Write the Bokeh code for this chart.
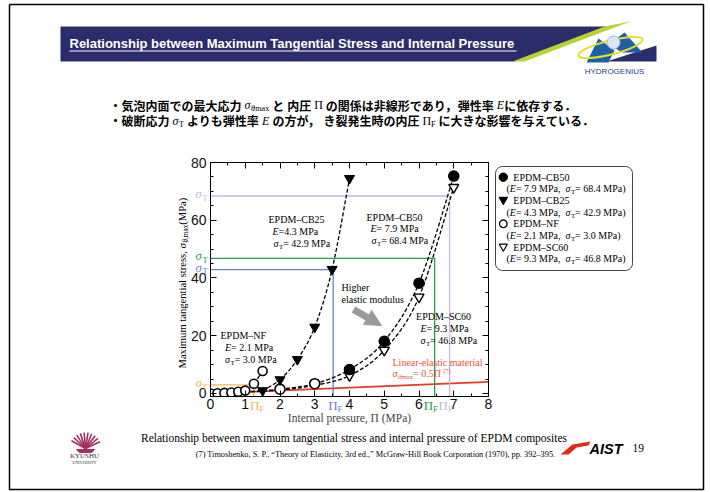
import math
from bokeh.plotting import figure
from bokeh.models import (Range1d, LinearAxis, FixedTicker, ColumnDataSource, Arrow, NormalHead,
                          CustomLabelingPolicy)
from bokeh.embed import file_html
from bokeh.resources import INLINE

# ---------------- measured data ----------------
# internal pressure (MPa) vs. maximum tangential stress (MPa)
nf_pressure = [0.0, 0.2, 0.4, 0.6, 0.8, 1.0, 1.25, 1.5]
nf_stress = [0.0, 0.1, 0.2, 0.35, 0.6, 1.0, 3.4, 7.8]
cb25_pressure = [1.5, 2.0, 2.5, 3.0, 3.5, 4.0]
cb25_stress = [1.0, 4.8, 11.8, 23.0, 43.0, 74.5]
cb50_pressure = [1.0, 2.0, 3.0, 4.0, 5.0, 6.0, 7.0]
cb50_stress = [0.6, 1.5, 3.4, 8.3, 18.1, 38.2, 75.3]
sc60_pressure = [1.0, 2.0, 3.0, 4.0, 5.0, 6.0, 7.0]
sc60_stress = [0.5, 1.2, 2.8, 6.2, 15.0, 33.4, 71.4]

# linear-elastic reference line, sigma = 0.5 * Pi
linear_pressure = [0.0, 8.0]
linear_stress = [0.0, 4.0]

# fracture: tensile strength sigma_T and internal pressure at crack onset Pi_F
materials = ["EPDM\u2013CB50", "EPDM\u2013CB25", "EPDM\u2013NF", "EPDM\u2013SC60"]
modulus = [7.9, 4.3, 2.1, 9.3]
sigma_t = [68.4, 42.9, 3.0, 46.8]
pi_f = [6.88, 3.53, 1.25, 6.45]
fracture_colors = ["#c8b5df", "#6b7fc6", "#f6b54c", "#22a050"]

x_ticks = [0, 1, 2, 3, 4, 5, 6, 7, 8]
y_ticks = [0, 20, 40, 60, 80]

# ---------------- page geometry ----------------
W, H = 710, 492
FRAME_L, FRAME_R, FRAME_T, FRAME_B = 210, 488, 162, 396
X_MIN, X_MAX = 0.0, 8.0
Y_MIN, Y_MAX = -1.04, 80.0

SERIF = "Liberation Serif"
SANS = "Liberation Sans"
CJK = "Noto Sans CJK JP"
NAVY = "#2a2c6b"


def X(px):
    return X_MIN + (px - FRAME_L) / (FRAME_R - FRAME_L) * (X_MAX - X_MIN)


def Y(py):
    return Y_MIN + (FRAME_B - py) / (FRAME_B - FRAME_T) * (Y_MAX - Y_MIN)


def PX(x):
    return FRAME_L + (x - X_MIN) / (X_MAX - X_MIN) * (FRAME_R - FRAME_L)


def PY(y):
    return FRAME_B - (y - Y_MIN) / (Y_MAX - Y_MIN) * (FRAME_B - FRAME_T)


p = figure(width=W, height=H, x_range=Range1d(X_MIN, X_MAX), y_range=Range1d(Y_MIN, Y_MAX),
           output_backend="svg", toolbar_location=None,
           min_border_left=FRAME_L, min_border_right=W - FRAME_R,
           min_border_top=FRAME_T, min_border_bottom=H - FRAME_B,
           background_fill_color="white", border_fill_color="white",
           outline_line_color="black", outline_line_width=1)
p.xgrid.visible = False
p.ygrid.visible = False

x_minor = [i * 0.5 for i in range(17)]
y_minor = list(range(0, 81, 5))


def style_axis(ax, ticks, minor, labels=True):
    ax.ticker = FixedTicker(ticks=ticks, minor_ticks=minor)
    ax.major_tick_in = 6
    ax.major_tick_out = 0
    ax.minor_tick_in = 3
    ax.minor_tick_out = 0
    ax.axis_line_color = "black"
    ax.major_tick_line_color = "black"
    ax.minor_tick_line_color = "black"
    if labels:
        ax.major_label_text_font = SANS
        ax.major_label_text_font_size = "14px"
        ax.major_label_text_color = "#111111"
        ax.major_label_standoff = 4
    else:
        # mirrored tick marks only: the labelling policy keeps none of the labels
        ax.major_label_policy = CustomLabelingPolicy(code="return []")
        ax.major_label_standoff = 0


style_axis(p.xaxis[0], x_ticks, x_minor)
style_axis(p.yaxis[0], y_ticks, y_minor)
p.xaxis[0].major_label_standoff = 2
p.xaxis.axis_label = "Internal pressure, \u03a0 (MPa)"
p.xaxis.axis_label_text_font = SERIF
p.xaxis.axis_label_text_font_style = "normal"
p.xaxis.axis_label_text_font_size = "11.5px"
p.xaxis.axis_label_standoff = 0

top_axis = LinearAxis()
style_axis(top_axis, x_ticks, x_minor, labels=False)
p.add_layout(top_axis, "above")
right_axis = LinearAxis()
style_axis(right_axis, y_ticks, y_minor, labels=False)
p.add_layout(right_axis, "right")

# ---------------- chart marks ----------------
p.line(linear_pressure, linear_stress, line_color="#e8392b", line_width=1.7)

for st, pf, col in zip(sigma_t, pi_f, fracture_colors):
    p.line([X_MIN, pf, pf], [st, st, Y_MIN], line_color=col, line_width=1.3)


def catmull_rom(xs, ys):
    pts = list(zip(xs, ys))
    n = len(pts)
    seg = {k: [] for k in ("x0", "y0", "x1", "y1", "cx0", "cy0", "cx1", "cy1")}
    for i in range(n - 1):
        p0, p1, p2, p3 = pts[max(i - 1, 0)], pts[i], pts[i + 1], pts[min(i + 2, n - 1)]
        seg["x0"].append(p1[0]); seg["y0"].append(p1[1])
        seg["x1"].append(p2[0]); seg["y1"].append(p2[1])
        seg["cx0"].append(p1[0] + (p2[0] - p0[0]) / 6); seg["cy0"].append(p1[1] + (p2[1] - p0[1]) / 6)
        seg["cx1"].append(p2[0] - (p3[0] - p1[0]) / 6); seg["cy1"].append(p2[1] - (p3[1] - p1[1]) / 6)
    return seg


for xs, ys in [(nf_pressure, nf_stress), (cb25_pressure, cb25_stress),
               (cb50_pressure, cb50_stress), (sc60_pressure, sc60_stress)]:
    p.bezier(source=ColumnDataSource(catmull_rom(xs, ys)), x0="x0", y0="y0", x1="x1", y1="y1",
             cx0="cx0", cy0="cy0", cx1="cx1", cy1="cy1",
             line_color="black", line_width=1.3, line_dash="4 2")

p.scatter(nf_pressure, nf_stress, marker="circle", size=9, fill_color="white",
          line_color="black", line_width=1.6)
p.scatter([x for x in sc60_pressure if x >= 4], [y for x, y in zip(sc60_pressure, sc60_stress) if x >= 4],
          marker="inverted_triangle", size=10, fill_color="white", line_color="black", line_width=1.4)
p.scatter([x for x in cb50_pressure if x >= 2], [y for x, y in zip(cb50_pressure, cb50_stress) if x >= 2],
          marker="circle", size=10,
          fill_color=["white" if x <= 3 else "black" for x in cb50_pressure if x >= 2],
          line_color="black", line_width=1.6)
p.scatter(cb25_pressure, cb25_stress, marker="inverted_triangle", size=10,
          fill_color="black", line_color="black")

p.add_layout(Arrow(x_start=X(353), y_start=Y(309), x_end=X(381), y_end=Y(325),
                   line_color="#9a9a9a", line_width=7,
                   end=NormalHead(size=16, fill_color="#9a9a9a", line_color="#9a9a9a")))


# ---------------- slide decorations ----------------
def shape(pts, fill, line=None, width=1.0):
    p.patch([X(a) for a, b in pts], [Y(b) for a, b in pts], fill_color=fill,
            line_color=line, line_width=width, level="overlay")


def polyline(pts, color, width=1.0):
    p.line([X(a) for a, b in pts], [Y(b) for a, b in pts], line_color=color,
           line_width=width, level="overlay")


def rounded(x0, y0, x1, y1, r, n=6):
    pts = []
    for cx, cy, a0 in [(x1 - r, y0 + r, -90), (x1 - r, y1 - r, 0), (x0 + r, y1 - r, 90), (x0 + r, y0 + r, 180)]:
        for k in range(n + 1):
            a = math.radians(a0 + 90 * k / n)
            pts.append((cx + r * math.cos(a), cy + r * math.sin(a)))
    return pts


def disc(cx, cy, r, n=20):
    return [(cx + r * math.cos(2 * math.pi * k / n), cy + r * math.sin(2 * math.pi * k / n)) for k in range(n)]


def down_triangle(cx, cy, r):
    return [(cx - r, cy - 0.75 * r), (cx + r, cy - 0.75 * r), (cx, cy + r)]


# slide frame
polyline([(9, 4), (703, 4), (703, 489), (9, 489), (9, 4)], "black", 1.5)

# title banner
shape([(60, 26), (606, 26), (514, 61), (60, 61)], NAVY)
shape([(604, 26), (630, 21), (524, 61), (512, 61)], "#b8d234")
shape([(606, 61), (656, 61), (656, 45)], NAVY)
polyline([(69, 50.5), (516, 50.5)], "white", 1.0)

# hydrogen logo
shape([(586, 62), (598, 38), (614, 50), (608, 62)], "#1f5ea8")
shape([(608, 44), (624, 32), (642, 52), (622, 52)], "#1f5ea8")
p.ellipse(x=X(610), y=Y(47), width=66, height=14, angle=0.25, width_units="screen",
          height_units="screen", fill_color=None, line_color="#e6e020", line_width=2, level="overlay")
shape(disc(613, 42, 6.5), "#dde5ef", "#9fb3cc")

# university emblem
cx, cy, rr = 85, 448, 16
angles = [math.radians(a) for a in range(25, 160, 14)]
p.segment(x0=[X(cx)] * len(angles), y0=[Y(cy)] * len(angles),
          x1=[X(cx + rr * math.cos(a)) for a in angles], y1=[Y(cy - rr * math.sin(a)) for a in angles],
          line_color="#a3305f", line_width=1.6, level="overlay")
shape([(76, 449), (94, 449), (91, 452), (79, 452)], "#a3305f", "#a3305f")

# AIST mark
shape([(560, 454), (572, 444), (590, 441), (588, 445), (576, 447), (568, 454)], "#e8261c")

# legend frame and symbols
legend_rows = [176.7, 188.3, 200.0, 211.7, 223.3, 235.0, 246.7, 258.3]
shape(rounded(495, 166, 632, 270, 7), "white", "#444444", 1.0)
shape(disc(502.8, legend_rows[0], 4.2), "black", "black")
shape(down_triangle(502.8, legend_rows[2], 4.3), "black", "black")
shape(disc(502.8, legend_rows[4], 3.8), "white", "black", 1.3)
shape(down_triangle(502.8, legend_rows[6], 4.0), "white", "black", 1.2)

# ---------------- texts ----------------
_W = {}
for chars, w in [("iltj", .278), ("fr", .333), ("s", .389), ("acez", .444), ("bdghknopquvxy", .5),
                 ("m", .778), ("w", .722), ("I", .333), ("J", .389), ("FPS", .556), ("ELTZ", .611),
                 ("BCR", .667), ("ADGHKNOQUVXY", .722), ("M", .889), ("W", .944), ("0123456789", .5),
                 (" ,.", .25), ("()-", .333), (":;", .278), ("=+", .564), ("\u2013", .5),
                 ("\u201c\u201d", .444), ("\u03c3", .55), ("\u03b8", .5), ("\u03a0", .72)]:
    for c in chars:
        _W[c] = w


def width(s, size):
    return sum(1.0 if ord(c) >= 0x2E80 else _W.get(c, .5) for c in s) * size


rows = {k: [] for k in ("x", "y", "text", "font", "size", "style", "color", "angle", "align")}


def put(px, py, text, size, font=SERIF, style="normal", color="black", angle=0.0, align="left"):
    rows["x"].append(X(px)); rows["y"].append(Y(py)); rows["text"].append(text)
    rows["font"].append(font); rows["size"].append("%.1fpx" % size); rows["style"].append(style)
    rows["color"].append(color); rows["angle"].append(angle); rows["align"].append(align)


def run(px, py, parts, size, color="black", rot=False):
    """Lay out a sequence of text runs; py is the vertical middle of the full-size text."""
    adv = 0.0
    for part in parts:
        text, kind = part[0], part[1]
        font = part[2] if len(part) > 2 else SERIF
        s, dy, style = size, 0.0, "normal"
        if kind in ("i", "si", "pi"):
            style = "italic"
        if kind in ("s", "si"):
            s, dy = size * 0.68, 0.30 * size
        if kind in ("p", "pi"):
            s, dy = size * 0.62, -0.32 * size
        if font == CJK:
            style = "bold"
        if text.strip():
            if rot:
                put(px + dy, py - adv, text, s, font, style, color, math.pi / 2)
            else:
                put(px + adv, py + dy, text, s, font, style, color)
        adv += width(text, s)


# banner title
put(69, 43, "Relationship between Maximum Tangential Stress and Internal Pressure", 13,
    SANS, "bold", "white")
put(614, 70.5, "HYDROGENIUS", 8, SANS, "normal", "#2a3b8f", align="center")

# bullet lines
run(109, 104.5, [("\u30fb\u6c17\u6ce1\u5185\u9762\u3067\u306e\u6700\u5927\u5fdc\u529b ", "n", CJK),
                 ("\u03c3", "i"), ("\u03b8", "si"), ("max", "s"), (" ", "n"), ("\u3068 ", "n", CJK),
                 ("\u5185\u5727 ", "n", CJK), ("\u03a0 ", "n"),
                 ("\u306e\u95a2\u4fc2\u306f\u975e\u7dda\u5f62\u3067\u3042\u308a\uff0c", "n", CJK),
                 ("\u5f3e\u6027\u7387 ", "n", CJK), ("E", "i"),
                 ("\u306b\u4f9d\u5b58\u3059\u308b\uff0e", "n", CJK)], 12)
run(109, 120, [("\u30fb\u7834\u65ad\u5fdc\u529b ", "n", CJK), ("\u03c3", "i"), ("T", "s"),
               (" ", "n"), ("\u3088\u308a\u3082\u5f3e\u6027\u7387 ", "n", CJK), ("E", "i"),
               (" ", "n"), ("\u306e\u65b9\u304c\uff0c", "n", CJK), (" ", "n"),
               ("\u304d\u88c2\u767a\u751f\u6642\u306e\u5185\u5727 ", "n", CJK),
               ("\u03a0", "n"), ("F", "s"), (" ", "n"),
               ("\u306b\u5927\u304d\u306a\u5f71\u97ff\u3092\u4e0e\u3048\u3066\u3044\u308b\uff0e", "n", CJK)], 12)

# y axis title
run(182, 368, [("Maximum tangential stress, ", "n"), ("\u03c3", "i"), ("\u03b8", "si"), (",max", "s"),
               (" (MPa)", "n")], 10.6, rot=True)

# sigma_T marks beside the stress axis and Pi_F marks below the pressure axis
pi_nudge = [-4, 2, 3, -4]
for st, pf, col, nudge in zip(sigma_t, pi_f, fracture_colors, pi_nudge):
    run(195, PY(st) - 2, [("\u03c3", "i"), ("T", "s")], 12.5, color=col)
    run(PX(pf) + nudge - 7, 405, [("\u03a0", "n"), ("F", "s")], 13, color=col)

# material annotations inside the plot
blocks = {
    "EPDM\u2013CB50": (366, 370, 371, 216.5),
    "EPDM\u2013CB25": (268, 272, 273, 219),
    "EPDM\u2013NF": (220, 224.5, 224.5, 335),
    "EPDM\u2013SC60": (415.6, 420, 420, 316),
}
for name, e, st in zip(materials, modulus, sigma_t):
    xn, xe, xs, yc = blocks[name]
    put(xn, yc, name, 10)
    eq = " =" if name.endswith("CB25") else " = "
    run(xe, yc + 11.8, [("E", "i"), ("%s%.1f MPa" % (eq, e), "n")], 10)
    run(xs, yc + 23.6, [("\u03c3", "i"), ("T", "s"), (" = %.1f MPa" % st, "n")], 10)

put(341, 287, "Higher", 10)
put(341, 299, "elastic modulus", 10)
put(392, 361.7, "Linear-elastic material", 10, color="#f0533a")
run(392, 373, [("\u03c3", "i"), ("\u03b8", "si"), ("max", "s"), (" = 0.5\u03a0", "n"), ("(7)", "p")], 10,
    color="#f0533a")

# legend texts
for i, (name, e, st) in enumerate(zip(materials, modulus, sigma_t)):
    put(512.8, legend_rows[2 * i], name, 10)
    run(506, legend_rows[2 * i + 1], [("(", "n"), ("E", "i"), (" = %.1f MPa, " % e, "n"),
                                       ("\u03c3", "i"), ("T", "s"), (" = %.1f MPa)" % st, "n")], 10)

# caption and reference
put(353.5, 437, "Relationship between maximum tangential stress and internal pressure of EPDM composites",
    11.5, align="center")
put(375, 453.5, "(7) Timoshenko, S. P., \u201cTheory of Elasticity, 3rd ed.,\u201d McGraw-Hill Book Corporation "
    "(1970), pp. 392\u2013395.", 8.3, align="center")
put(84, 455, "KYUSHU", 7, align="center", color="#333333")
put(84, 461.5, "UNIVERSITY", 4, align="center", color="#333333")
put(589, 448, "AIST", 14.5, SANS, "bold italic")
put(632, 447, "19", 11.5)

p.text(x="x", y="y", text="text", source=ColumnDataSource(rows), text_font="font",
       text_font_size="size", text_font_style="style", text_color="color", angle="angle",
       text_align="align", text_baseline="middle", level="overlay")

open("out.html", "w", encoding="utf-8").write(file_html(p, INLINE))
